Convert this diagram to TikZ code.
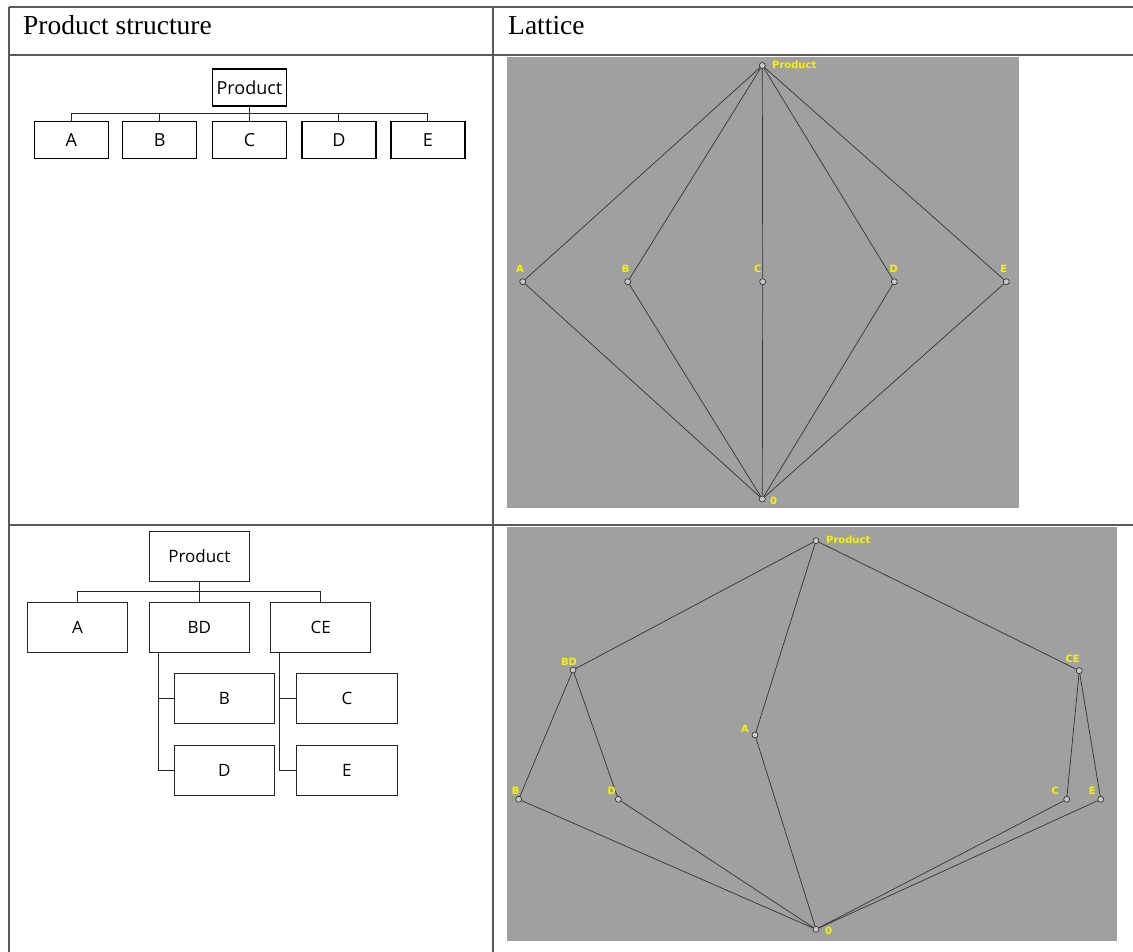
\documentclass[tikz,border=0pt]{standalone}
\usepackage{fontspec}
\setmainfont{Liberation Serif}
\newfontfamily\treefont{Open Sans}
\newfontfamily\latfont{DejaVu Sans}
\definecolor{latgray}{RGB}{160,160,160}
\definecolor{labyellow}{RGB}{245,245,0}
\definecolor{gridcol}{RGB}{90,90,90}
\tikzset{
  gridline/.style={draw=gridcol, line width=2pt},
  head/.style={inner sep=0, anchor=base west, font=\fontsize{27.5}{30}\selectfont},
  tboxA/.style={draw=black, line width=1.4pt, inner sep=0, minimum width=74pt, minimum height=37pt, font=\treefont\fontsize{18}{20}\selectfont},
  tboxB/.style={draw=black!85, line width=1pt, inner sep=0, minimum width=100.5pt, minimum height=50pt, font=\treefont\fontsize{17}{19}\selectfont},
  tconn/.style={draw=black!85, line width=1pt},
  lnode/.style={circle, draw=black!85, fill=black!22, inner sep=0, minimum size=6pt, line width=0.6pt},
  llab/.style={text=labyellow, inner sep=0, font=\latfont\bfseries\fontsize{10}{11}\selectfont},
  ledge/.style={draw=black!80, line width=0.7pt}
}
\begin{document}
\begin{tikzpicture}[x=1pt,y=-1pt]
\useasboundingbox (0,0) rectangle (1133,952);
\fill[white] (0,0) rectangle (1133,952);

% table grid
\draw[gridline] (9,7.5) -- (1133,7.5);
\draw[gridline] (9,55.5) -- (1133,55.5);
\draw[gridline] (9,524.5) -- (1133,524.5);
\draw[gridline] (9,7.5) -- (9,952);
\draw[gridline] (493,7.5) -- (493,952);

% header
\node[head] (h1) at (23,35) {Product structure};
\node[head] (h2) at (508,35) {Lattice};

% ---------- top product tree ----------
\node[tboxA] (tP) at (249.5,87.5) {Product};
\node[tboxA] (tA) at (71.3,139.9) {A};
\node[tboxA] (tB) at (159.7,139.9) {B};
\node[tboxA] (tC) at (249.5,139.9) {C};
\node[tboxA] (tD) at (338.9,139.9) {D};
\node[tboxA] (tE) at (427.9,139.9) {E};
\coordinate (tbus) at (0,113.3);
\draw[tconn] (tA.north) |- (tE.north |- tbus) -- (tE.north);
\draw[tconn] (tP.south) -- (tC.north);
\draw[tconn] (tB.north) -- (tB.north |- tbus);
\draw[tconn] (tD.north) -- (tD.north |- tbus);

% ---------- bottom product tree ----------
\node[tboxB] (bP) at (199.3,556) {Product};
\node[tboxB] (bA) at (77.5,627.7) {A};
\node[tboxB] (bBD) at (199.3,627.7) {BD};
\node[tboxB] (bCE) at (320.7,627.7) {CE};
\node[tboxB] (bB) at (224.4,698.7) {B};
\node[tboxB] (bD) at (224.4,770) {D};
\node[tboxB] (bC) at (346.9,698.7) {C};
\node[tboxB] (bE) at (346.9,770) {E};
\coordinate (bbus) at (0,591.7);
\draw[tconn] (bA.north) |- (bCE.north |- bbus) -- (bCE.north);
\draw[tconn] (bP.south) -- (bBD.north);
\draw[tconn] ([xshift=10pt]bBD.south west) |- (bD.west);
\draw[tconn] ([xshift=10pt]bBD.south west |- bB.west) -- (bB.west);
\draw[tconn] ([xshift=10pt]bCE.south west) |- (bE.west);
\draw[tconn] ([xshift=10pt]bCE.south west |- bC.west) -- (bC.west);

% ---------- top lattice ----------
\fill[latgray] (507,57) rectangle (1019,508);
\node[lnode] (P1) at (762.3,65.5) {};
\node[lnode] (A1) at (522.7,281.7) {};
\node[lnode] (B1) at (627.7,281.7) {};
\node[lnode] (C1) at (762.7,281.7) {};
\node[lnode] (D1) at (894.3,281.7) {};
\node[lnode] (E1) at (1006.3,281.7) {};
\node[lnode] (Z1) at (762.3,499) {};
\foreach \n in {A1,B1,C1,D1,E1} {
  \draw[ledge] (P1) -- (\n);
  \draw[ledge] (\n) -- (Z1);
}
\node[llab, anchor=west] (lP1) at (772,65) {Product};
\node[llab] (lA1) at (520,269) {A};
\node[llab] (lB1) at (625.7,269) {B};
\node[llab] (lC1) at (757.7,269) {C};
\node[llab] (lD1) at (893.7,269) {D};
\node[llab] (lE1) at (1003.7,269) {E};
\node[llab, anchor=west] (lZ1) at (770,500.5) {0};

% ---------- bottom lattice ----------
\fill[latgray] (507,527) rectangle (1117,941);
\node[lnode] (P2) at (816,540.7) {};
\node[lnode] (BD2) at (573,670) {};
\node[lnode] (A2) at (755,735) {};
\node[lnode] (B2) at (518.7,799.3) {};
\node[lnode] (D2) at (618.3,799.3) {};
\node[lnode] (CE2) at (1079.3,670.7) {};
\node[lnode] (C2) at (1066.7,799.3) {};
\node[lnode] (E2) at (1100.7,799.3) {};
\node[lnode] (Z2) at (816,929.3) {};
\draw[ledge] (P2) -- (BD2);
\draw[ledge] (P2) -- (A2);
\draw[ledge] (P2) -- (CE2);
\draw[ledge] (BD2) -- (B2);
\draw[ledge] (BD2) -- (D2);
\draw[ledge] (CE2) -- (C2);
\draw[ledge] (CE2) -- (E2);
\draw[ledge] (B2) -- (Z2);
\draw[ledge] (D2) -- (Z2);
\draw[ledge] (A2) -- (Z2);
\draw[ledge] (C2) -- (Z2);
\draw[ledge] (E2) -- (Z2);
\node[llab, anchor=west] (lP2) at (826,540) {Product};
\node[llab] (lBD2) at (569,661.7) {BD};
\node[llab] (lA2) at (745,729) {A};
\node[llab] (lB2) at (515.7,790.7) {B};
\node[llab] (lD2) at (611.7,791) {D};
\node[llab] (lCE2) at (1072.7,659.3) {CE};
\node[llab] (lC2) at (1055.3,790.7) {C};
\node[llab] (lE2) at (1092.3,791) {E};
\node[llab, anchor=west] (lZ2) at (825,930.7) {0};
\end{tikzpicture}
\end{document}
